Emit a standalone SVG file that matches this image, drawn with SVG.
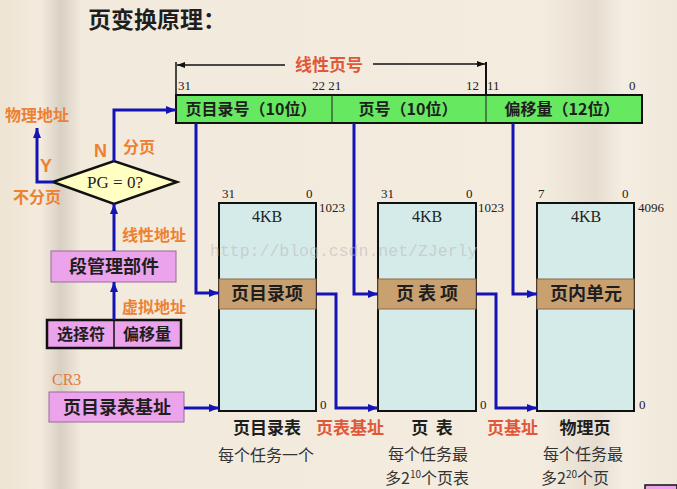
<svg xmlns="http://www.w3.org/2000/svg" width="677" height="489" viewBox="0 0 677 489">
<defs>
<linearGradient id="paper" x1="0" y1="0" x2="1" y2="0">
<stop offset="0" stop-color="#EEE4D4"/>
<stop offset="0.06" stop-color="#F3EBDD"/>
<stop offset="0.09" stop-color="#D9D0C4"/>
<stop offset="0.12" stop-color="#F2EADC"/>
<stop offset="0.8" stop-color="#F3ECDF"/>
<stop offset="0.88" stop-color="#E6DDD0"/>
<stop offset="0.92" stop-color="#F4EDE2"/>
<stop offset="1" stop-color="#F0E8DA"/>
</linearGradient>
<marker id="ab" viewBox="0 0 10 8" refX="10" refY="4" markerWidth="10" markerHeight="8" markerUnits="userSpaceOnUse" orient="auto">
<path d="M0,0 L10,4 L0,8 z" fill="#1414B4"/>
</marker>
<marker id="ak" viewBox="0 0 8 6" refX="8" refY="3" markerWidth="8" markerHeight="6" markerUnits="userSpaceOnUse" orient="auto">
<path d="M0,0 L8,3 L0,6 z" fill="#111"/>
</marker>
</defs>
<style>
.cjk{font-family:"Noto Sans CJK SC","Noto Sans",sans-serif}
.ser{font-family:"Liberation Serif","DejaVu Serif",serif}
.dark{fill:#1E1E1E}
.b{font-weight:bold}
.org{fill:#EE8032}
.red{fill:#E0583A}
.blue{fill:none;stroke:#1414B4;stroke-width:3;marker-end:url(#ab)}
.pink{fill:#EBA3EC;stroke:#9A6A9A;stroke-width:1}
.box{fill:#D5EBEA;stroke:#111;stroke-width:2}
.band{fill:#C9A170;stroke:#8A6A44;stroke-width:1}
.num{font-family:"Liberation Serif","DejaVu Serif",serif;font-size:13px;fill:#222}
.mid{text-anchor:middle}
</style>
<rect width="677" height="489" fill="url(#paper)"/>

<text class="cjk dark" x="88" y="28" font-size="23" font-weight="bold">页变换原理：</text>

<g id="linear-label">
<line x1="176" y1="62" x2="176" y2="95" stroke="#111" stroke-width="1.5"/>
<line x1="285" y1="65" x2="177" y2="65" stroke="#111" stroke-width="1.5" marker-end="url(#ak)"/>
<line x1="486" y1="62" x2="486" y2="95" stroke="#111" stroke-width="2"/>
<line x1="373" y1="64" x2="485" y2="64" stroke="#111" stroke-width="1.5" marker-end="url(#ak)"/>
<text class="cjk red b" x="329" y="71" font-size="17" text-anchor="middle">线性页号</text>
<text class="num" x="178" y="90" font-size="12">31</text>
<text class="num" x="312" y="90" font-size="12">22 21</text>
<text class="num" x="466" y="90" font-size="12">12</text>
<text class="num" x="487" y="90" font-size="12">11</text>
<text class="num" x="629" y="90" font-size="12">0</text>
</g>

<g id="linear-bar">
<rect x="176" y="95" width="466" height="28" fill="#66E860" stroke="#111" stroke-width="2"/>
<line x1="332" y1="95" x2="332" y2="123" stroke="#222" stroke-width="1"/>
<line x1="486" y1="95" x2="486" y2="123" stroke="#222" stroke-width="1"/>
<text class="cjk dark b mid" x="251" y="115" font-size="16">页目录号（10位）</text>
<text class="cjk dark b mid" x="408" y="115" font-size="16">页号（10位）</text>
<text class="cjk dark b mid" x="562" y="115" font-size="16">偏移量（12位）</text>
</g>

<g id="pg-decision">
<polygon points="53,182 114,161 177,182 114,204" fill="#FFFFC4" stroke="#111" stroke-width="2.5"/>
<text class="ser mid" x="115" y="188" font-size="17" fill="#222">PG = 0?</text>
</g>

<g id="labels-left">
<text class="cjk org b" x="5" y="121" font-size="16">物理地址</text>
<text font-family="Liberation Sans, Arial, sans-serif" class="org b" x="40" y="172" font-size="18">Y</text>
<text class="cjk org b" x="13" y="203" font-size="16">不分页</text>
<text font-family="Liberation Sans, Arial, sans-serif" class="org b" x="94" y="157" font-size="18">N</text>
<text class="cjk org b" x="123" y="153" font-size="16">分页</text>
<text class="cjk org b" x="122" y="241" font-size="16">线性地址</text>
<text class="cjk org b" x="122" y="313" font-size="16">虚拟地址</text>
<text class="ser" x="52" y="385" font-size="16" fill="#E07A40">CR3</text>
</g>

<g id="segment-unit">
<rect class="pink" x="51" y="251" width="125" height="31"/>
<text class="cjk dark b mid" x="114" y="273" font-size="18">段管理部件</text>
</g>

<g id="logical-address">
<rect x="47" y="320" width="134" height="28" fill="#EBA3EC" stroke="#111" stroke-width="2.5"/>
<line x1="114" y1="320" x2="114" y2="348" stroke="#111" stroke-width="1.5"/>
<text class="cjk dark b mid" x="81" y="340" font-size="16">选择符</text>
<text class="cjk dark b mid" x="147" y="340" font-size="16">偏移量</text>
</g>

<g id="cr3">
<rect class="pink" x="49" y="392" width="135" height="30"/>
<text class="cjk dark b mid" x="117" y="414" font-size="18">页目录表基址</text>
</g>

<g id="page-directory">
<rect class="box" x="219" y="203" width="97" height="208"/>
<rect class="band" x="219" y="279" width="97" height="30"/>
<text class="ser mid" x="267" y="222" font-size="16" fill="#222">4KB</text>
<text class="cjk dark b mid" x="267" y="300" font-size="18">页目录项</text>
<text class="num" x="222" y="198">31</text>
<text class="num" x="306" y="198">0</text>
<text class="num" x="319" y="212">1023</text>
<text class="num" x="320" y="409">0</text>
<text class="cjk dark b mid" x="267" y="434" font-size="17">页目录表</text>
<text class="cjk mid" x="266" y="461" font-size="16" fill="#333">每个任务一个</text>
</g>

<g id="page-table">
<rect class="box" x="378" y="203" width="98" height="208"/>
<rect class="band" x="378" y="279" width="98" height="30"/>
<text class="ser mid" x="427" y="222" font-size="16" fill="#222">4KB</text>
<text class="cjk dark b mid" x="427" y="300" font-size="18" xml:space="preserve">页 表 项</text>
<text class="num" x="381" y="198">31</text>
<text class="num" x="466" y="198">0</text>
<text class="num" x="478" y="212">1023</text>
<text class="num" x="480" y="409">0</text>
<text class="cjk dark b mid" x="432" y="434" font-size="17" xml:space="preserve">页  表</text>
<text class="cjk mid" x="428" y="460" font-size="16" fill="#333">每个任务最</text>
<text class="cjk" x="385" y="484" font-size="16" fill="#333">多2<tspan font-size="10" dy="-6">10</tspan><tspan dy="6">个页表</tspan></text>
</g>

<g id="physical-page">
<rect class="box" x="537" y="203" width="97" height="208"/>
<rect class="band" x="537" y="279" width="97" height="30"/>
<text class="ser mid" x="586" y="222" font-size="16" fill="#222">4KB</text>
<text class="cjk dark b mid" x="586" y="300" font-size="18">页内单元</text>
<text class="num" x="538" y="198">7</text>
<text class="num" x="622" y="198">0</text>
<text class="num" x="638" y="212">4096</text>
<text class="num" x="639" y="409">0</text>
<text class="cjk dark b mid" x="585" y="434" font-size="17">物理页</text>
<text class="cjk mid" x="583" y="460" font-size="16" fill="#333">每个任务最</text>
<text class="cjk" x="541" y="484" font-size="16" fill="#333">多2<tspan font-size="10" dy="-6">20</tspan><tspan dy="6">个页</tspan></text>
</g>

<g id="base-labels">
<text class="cjk red b" x="316" y="434" font-size="17">页表基址</text>
<text class="cjk red b" x="487" y="434" font-size="17">页基址</text>
</g>

<g id="connectors">
<path class="blue" d="M114,161 V110 H176"/>
<path class="blue" d="M53,182 H37 V128"/>
<path class="blue" d="M114,251 V204"/>
<path class="blue" d="M114,320 V282"/>
<path class="blue" d="M184,408 H219"/>
<path class="blue" d="M196,123 V293 H219"/>
<path class="blue" d="M354,123 V294 H378"/>
<path class="blue" d="M513,123 V294 H537"/>
<path class="blue" d="M316,294 H336 V408 H378"/>
<path class="blue" d="M476,294 H496 V408 H537"/>
</g>

<text font-family="Liberation Mono, DejaVu Sans Mono, monospace" x="210" y="256" font-size="16.5" fill="#B8B8B8" fill-opacity="0.55">http://blog.csdn.net/ZJerly</text>
<rect x="645" y="485" width="32" height="6" fill="#EBA3EC" stroke="#111" stroke-width="1.5"/>
</svg>
